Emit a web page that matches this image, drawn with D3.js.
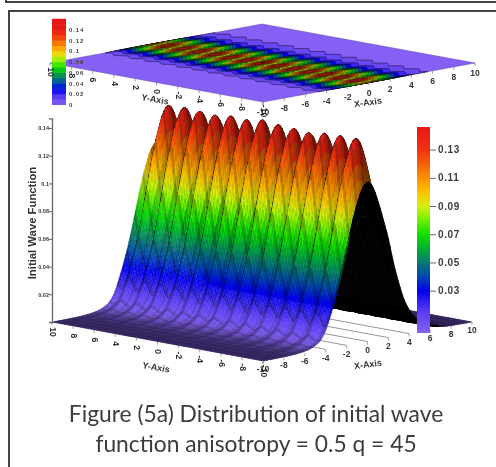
<!DOCTYPE html>
<html>
<head>
<meta charset="utf-8">
<script src="https://cdn.jsdelivr.net/npm/d3@7"></script>
<style>
  html, body { margin: 0; padding: 0; background: #fff; }
  svg { display: block; }
  .soft { filter: blur(0.7px); }
  text { font-family: "Liberation Sans", Arial, sans-serif; }
  .caption { font-family: Lato, sans-serif; font-size: 22.8px; fill: #3c3c3c; text-anchor: middle; filter: blur(0.35px); }
</style>
</head>
<body>
<svg id="chart" width="496" height="467"></svg>
<script>
// values
const xStart = -10, xStep = 0.5;
// cross section of the ridge, as a share of its height (x = -10 ... 10)
const xProfile = [0, 0, 0, 0.0005, 0.001, 0.002, 0.004, 0.007, 0.012, 0.02, 0.035, 0.06, 0.115, 0.21, 0.32, 0.45, 0.6, 0.75, 0.875, 0.965,
  1, 0.965, 0.87, 0.75, 0.62, 0.46, 0.33, 0.22, 0.15, 0.1, 0.065, 0.045, 0.03, 0.018, 0.009, 0.004, 0.002, 0.001, 0.0005, 0, 0];
const yStart = 10, yStep = -0.37;
// ridge height along y, four readings per ripple (y = 10 ... -10)
const yRidge = [0.116, 0.09, 0.116, 0.144,
  0.117, 0.09, 0.116, 0.145,
  0.116, 0.089, 0.117, 0.145,
  0.115, 0.09, 0.116, 0.144,
  0.116, 0.09, 0.115, 0.145,
  0.117, 0.089, 0.116, 0.144,
  0.116, 0.09, 0.117, 0.146,
  0.115, 0.09, 0.116, 0.145,
  0.116, 0.089, 0.116, 0.145,
  0.115, 0.09, 0.116, 0.144,
  0.116, 0.09, 0.117, 0.145,
  0.116, 0.09, 0.116, 0.145,
  0.116, 0.089, 0.116, 0.145,
  0.116, 0.09, 0.115];

const xTicks = [-10, -8, -6, -4, -2, 0, 2, 4, 6, 8, 10];
const yTicks = [10, 8, 6, 4, 2, 0, -2, -4, -6, -8, -10];
const zTicks = [0.02, 0.04, 0.06, 0.08, 0.1, 0.12, 0.14];
const barTicks = [0.03, 0.05, 0.07, 0.09, 0.11, 0.13];
const legendTicks = [0, 0.02, 0.04, 0.06, 0.08, 0.1, 0.12, 0.14];
const floorLines = [-4, -2, 0, 2, 4];
const captionLines = ['Figure (5a) Distribution of initial wave', 'function anisotropy = 0.5 q = 45'];

const colorValues = [0, 0.015, 0.03, 0.04, 0.05, 0.06, 0.07, 0.08, 0.09, 0.1, 0.11, 0.13, 0.146];
const colorNames = ['#8660f5', '#5a3cf2', '#0000ee', '#0048b0', '#0a7a70', '#00b030', '#10e000', '#70ef00', '#d8ee10', '#ffc000', '#fb9000', '#f03010', '#e81818'];

const colour = d3.scaleLinear().domain(colorValues).range(colorNames).clamp(true);
const svg = d3.select('#chart');
const soft = svg.append('g').attr('class', 'soft');

// uniform Catmull-Rom through the readings, so the mesh can be finer than the table
function readCurve(values, t) {
  let s = Math.max(0, Math.min(values.length - 1.0001, t));
  let i = Math.floor(s), f = s - i;
  let p0 = values[Math.max(0, i - 1)], p1 = values[i], p2 = values[i + 1], p3 = values[Math.min(values.length - 1, i + 2)];
  return 0.5 * (2 * p1 + (p2 - p0) * f + (2 * p0 - 5 * p1 + 4 * p2 - p3) * f * f + (3 * p1 - p0 - 3 * p2 + p3) * f * f * f);
}
function surface(x, y) {
  let a = Math.max(0, readCurve(xProfile, (x - xStart) / xStep));
  return a * readCurve(yRidge, (y - yStart) / yStep);
}

// plane projection from three corners of the box
const uScale = d3.scaleLinear().domain([-10, 10]).range([0, 1]);
const vScale = d3.scaleLinear().domain([10, -10]).range([0, 1]);
function projector(left, front, right, zPx) {
  return (x, y, z) => {
    let u = uScale(x), v = vScale(y);
    return [left[0] + u * (right[0] - front[0]) + v * (front[0] - left[0]),
      left[1] + u * (right[1] - front[1]) + v * (front[1] - left[1]) - zPx(z)];
  };
}
const mainZ = d3.scaleLinear().domain([0, 0.14]).range([0, 194]);
const mainBox = projector([52, 322], [263, 361], [472, 322], mainZ);
const mapBox = projector([50, 63], [263, 102], [475, 63], () => 0);

/* flat map at the top */
function drawMap() {
  let g = soft.append('g');
  let corners = [mapBox(-10, 10, 0), mapBox(-10, -10, 0), mapBox(10, -10, 0), mapBox(10, 10, 0)];
  g.append('path').attr('d', d3.line()(corners) + 'Z').attr('fill', colour(0)).attr('stroke', '#5b44a8').attr('stroke-width', 0.5);

  let n = 201, m = 241;
  let grid = new Array(n * m);
  for (let j = 0; j < m; j++) {
    for (let i = 0; i < n; i++) {
      grid[i + j * n] = surface(-10 + 20 * i / (n - 1), 10 - 20 * j / (m - 1));
    }
  }
  let levels = d3.range(0.005, 0.15, 0.01);
  let bands = d3.contours().size([n, m]).smooth(true).thresholds(levels)(grid);
  let toPlane = (c) => mapBox(-10 + 20 * Math.min(c[0] - 0.5, n - 1) / (n - 1), 10 - 20 * Math.min(c[1] - 0.5, m - 1) / (m - 1), 0);
  let ringPath = (ring) => d3.line()(ring.map(toPlane)) + 'Z';
  g.selectAll('.band').data(bands).join('path')
      .attr('class', 'band')
      .attr('d', d => d.coordinates.map(poly => poly.map(ringPath).join('')).join(''))
      .attr('fill', d => colour(d.value + 0.005))
      .attr('fill-rule', 'evenodd')
      .attr('stroke', '#000')
      .attr('stroke-opacity', 0.85)
      .attr('stroke-width', 0.55);

  // legend of the map
  let legendY = d3.scaleLinear().domain([0, 0.14]).range([105, 30]);
  let legendBands = d3.range(0, 0.16, 0.01);
  g.selectAll('.legend-band').data(legendBands).join('rect')
      .attr('class', 'legend-band')
      .attr('x', 52).attr('width', 14)
      .attr('y', d => legendY(d + 0.01) - 0.5)
      .attr('height', legendY(0) - legendY(0.01) + 0.5)
      .attr('fill', d => colour(d + 0.005));
  g.selectAll('.legend-label').data(legendTicks).join('text')
      .attr('class', 'legend-label')
      .attr('x', 69).attr('y', d => legendY(d) + 2)
      .attr('font-size', 6).attr('font-weight', 'bold').attr('letter-spacing', 0.9)
      .attr('fill', '#444')
      .text(d => d);
}

/* labels on the two horizontal edges of a box */
function drawEdgeLabels(project, xOff, yOff, size, xName, yName) {
  let g = soft.append('g').attr('fill', '#333').attr('font-weight', 'bold').attr('font-size', size);
  xTicks.forEach(t => {
    let p = project(t, -10, 0);
    g.append('line').attr('x1', p[0]).attr('y1', p[1]).attr('x2', p[0]).attr('y2', p[1] + 3).attr('stroke', '#777').attr('stroke-width', 0.7);
    g.append('text').attr('x', p[0]).attr('y', p[1] + xOff).attr('text-anchor', 'middle').attr('dominant-baseline', 'middle').text(t);
  });
  yTicks.forEach(t => {
    let p = project(-10, t, 0);
    g.append('line').attr('x1', p[0]).attr('y1', p[1]).attr('x2', p[0]).attr('y2', p[1] + 3).attr('stroke', '#777').attr('stroke-width', 0.7);
    g.append('text').attr('transform', `translate(${p[0]},${p[1] + yOff}) rotate(90)`)
        .attr('text-anchor', 'middle').attr('dominant-baseline', 'middle').text(t);
  });
  g.append('text').attr('transform', `translate(${xName[0]},${xName[1]}) rotate(-8)`).attr('text-anchor', 'middle')
      .attr('dominant-baseline', 'middle').attr('font-size', 9).text('X-Axis');
  g.append('text').attr('transform', `translate(${yName[0]},${yName[1]}) rotate(10)`).attr('text-anchor', 'middle')
      .attr('dominant-baseline', 'middle').attr('font-size', 9).text('Y-Axis');
}

/* shaded 3D surface, far facets first */
function drawSurface() {
  let g = soft.append('g');
  // bare floor seen under the end of the ridge
  g.selectAll('.floor').data(floorLines).join('line')
      .attr('class', 'floor')
      .attr('x1', d => mainBox(d, -10, 0)[0]).attr('y1', d => mainBox(d, -10, 0)[1])
      .attr('x2', d => mainBox(d, -2, 0)[0]).attr('y2', d => mainBox(d, -2, 0)[1])
      .attr('stroke', '#8a8a8a').attr('stroke-width', 0.9);

  let dx = 0.16, dy = 0.125;
  let xs = d3.range(10 - dx, -10 - 1e-6, -dx);
  let ys = d3.range(10 - dy, -10 - 1e-6, -dy);
  let view = [-0.78, -0.26, 0.31];
  let viewLen = Math.hypot(view[0], view[1], view[2]);
  let k = 10.5;
  let facets = [];
  xs.forEach((x, xi) => {
    ys.forEach((y, yi) => {
      let a = surface(x, y), b = surface(x + dx, y), c = surface(x + dx, y + dy), d = surface(x, y + dy);
      let p = [mainBox(x, y, a), mainBox(x + dx, y, b), mainBox(x + dx, y + dy, c), mainBox(x, y + dy, d)];
      let ax = p[1][0] - p[0][0], ay = p[1][1] - p[0][1];
      let bx = p[3][0] - p[0][0], by = p[3][1] - p[0][1];
      // facets turned away from the viewer show their black underside
      let facing = (ax * by - ay * bx) < 0;
      let fill = '#000', width = 0.9;
      if (facing) {
        let zMean = (a + b + c + d) / 4;
        let hx = mainZ((b + c - a - d) / 2) / dx, hy = mainZ((c + d - a - b) / 2) / dy;
        let len = Math.hypot(hx, hy, k);
        let dot = (-hx * view[0] - hy * view[1] + k * view[2]) / (len * viewLen);
        // the tops of the ridge stay lit in the picture, only the flat floor goes dark
        let light = Math.min(1, Math.max(0.22, 0.04 + 1.02 * dot) + 2.6 * zMean);
        // mesh of the plotted grid shows through as darker rows
        if (xi % 5 === 0) light *= 0.8;
        if (yi % 6 === 0) light *= 0.86;
        let rgb = d3.rgb(colour(zMean));
        fill = d3.rgb(rgb.r * light, rgb.g * light, rgb.b * light).formatHex();
        width = 0.35;
      }
      facets.push({ p, fill, width });
    });
  });
  g.selectAll('.facet').data(facets).join('path')
      .attr('class', 'facet')
      .attr('d', d => d3.line()(d.p) + 'Z')
      .attr('fill', d => d.fill)
      .attr('stroke', d => d.fill)
      .attr('stroke-width', d => d.width);
}

/* vertical axis of the main box */
function drawZAxis() {
  let scale = d3.scaleLinear().domain([0, 0.147]).range([322, 322 - mainZ(0.147)]);
  let axis = d3.axisLeft(scale).tickValues(zTicks).tickSize(3).tickFormat(d => d);
  let g = soft.append('g').attr('transform', 'translate(52,0)').call(axis);
  g.select('.domain').attr('stroke', '#666').attr('stroke-width', 1.3);
  g.selectAll('.tick line').attr('stroke', '#666');
  g.selectAll('.tick text').attr('x', -3).attr('font-size', 5.5).attr('font-weight', 'bold').attr('fill', '#333')
      .style('font-family', '"Liberation Sans", Arial, sans-serif');
  soft.append('text')
      .attr('transform', 'translate(33,223) rotate(-90)')
      .attr('text-anchor', 'middle').attr('dominant-baseline', 'middle')
      .attr('font-size', 11.3).attr('font-weight', 'bold').attr('fill', '#333')
      .text('Initial Wave Function');
}

/* colour bar of the main box */
function drawBar() {
  let barScale = d3.scaleLinear().domain([0, 0.146]).range([333, 127]);
  let grad = svg.append('defs').append('linearGradient')
      .attr('id', 'bar-grad').attr('x1', 0).attr('y1', 1).attr('x2', 0).attr('y2', 0);
  grad.selectAll('stop').data(colorValues).join('stop')
      .attr('offset', d => d / 0.146)
      .attr('stop-color', d => colour(d));
  let g = soft.append('g');
  g.append('rect').attr('x', 417).attr('y', 127).attr('width', 13).attr('height', 206).attr('fill', 'url(#bar-grad)');
  let axis = d3.axisRight(barScale).tickValues(barTicks).tickSize(6).tickFormat(d3.format('.2f'));
  let ag = g.append('g').attr('transform', 'translate(430,0)').call(axis);
  ag.select('.domain').remove();
  ag.selectAll('.tick line').attr('stroke', '#666');
  ag.selectAll('.tick text').attr('x', 8).attr('font-size', 10).attr('font-weight', 'bold')
      .attr('letter-spacing', 0.6).attr('fill', '#3c3c3c')
      .style('font-family', '"Liberation Sans", Arial, sans-serif');
}

/* rules of the scanned page and the caption */
function drawPage() {
  let g = svg.append('g').attr('stroke', '#444').attr('stroke-width', 2);
  g.append('line').attr('x1', 6).attr('y1', 2).attr('x2', 496).attr('y2', 2);
  g.append('line').attr('x1', 6).attr('y1', 0).attr('x2', 6).attr('y2', 3);
  g.append('line').attr('x1', 9).attr('y1', 11).attr('x2', 496).attr('y2', 11);
  g.append('line').attr('x1', 9).attr('y1', 10).attr('x2', 9).attr('y2', 467);
  svg.selectAll('.caption').data(captionLines).join('text')
      .attr('class', 'caption')
      .attr('x', 256)
      .attr('y', (d, i) => 422 + i * 29.5)
      .text(d => d);
}

drawMap();
drawEdgeLabels(mapBox, 11, 9, 8.5, [368, 103], [155, 100]);
drawSurface();
drawEdgeLabels(mainBox, 9, 10, 8.5, [368, 365], [156, 368]);
drawZAxis();
drawBar();
drawPage();
</script>
</body>
</html>
